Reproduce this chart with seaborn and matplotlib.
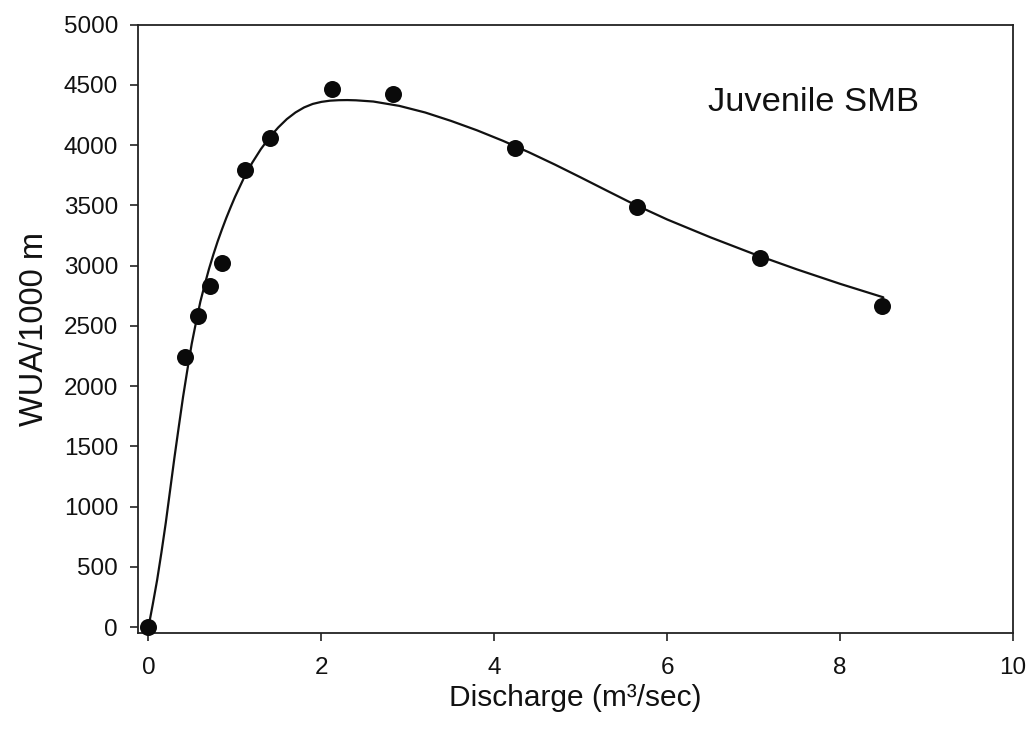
import matplotlib
matplotlib.use("Agg")
import matplotlib.pyplot as plt
import seaborn as sns
import pandas as pd

# Observed points
discharge = [0.0, 0.42, 0.57, 0.71, 0.85, 1.12, 1.41, 2.12, 2.83, 4.24, 5.65, 7.07, 8.49]
wua = [0, 2240, 2580, 2830, 3020, 3790, 4055, 4465, 4425, 3975, 3485, 3065, 2665]

# Fitted curve
curve_x = [0.0, 0.05, 0.1, 0.15, 0.2, 0.25, 0.3, 0.35, 0.4, 0.45, 0.5, 0.55, 0.6, 0.65,
           0.7, 0.75, 0.8, 0.85, 0.9, 0.95, 1.0, 1.1, 1.2, 1.3, 1.4, 1.5, 1.6, 1.7, 1.8,
           1.9, 2.0, 2.1, 2.2, 2.3, 2.4, 2.6, 2.9, 3.2, 3.5, 3.8, 4.1, 4.4, 4.7, 5.0,
           5.3, 5.6, 6.0, 6.5, 7.0, 7.5, 8.0, 8.5]
curve_y = [0, 190, 390, 620, 865, 1135, 1405, 1660, 1910, 2135, 2350, 2530, 2700, 2840,
           2972, 3090, 3200, 3300, 3395, 3483, 3568, 3721, 3853, 3966, 4063, 4145, 4215,
           4270, 4312, 4341, 4358, 4368, 4372, 4373, 4371, 4361, 4325, 4270, 4200, 4122,
           4035, 3940, 3838, 3731, 3622, 3514, 3382, 3234, 3096, 2968, 2848, 2736]

x_ticks = [0, 2, 4, 6, 8, 10]
y_ticks = [0, 500, 1000, 1500, 2000, 2500, 3000, 3500, 4000, 4500, 5000]

sns.set_theme(style="ticks")
plt.rcParams['font.family'] = ['Liberation Sans', 'DejaVu Sans']

fig = plt.figure(figsize=(10.30, 7.43), dpi=100)
ax = fig.add_axes([0.1335, 0.148, 0.850, 0.819])

pts = pd.DataFrame({"Discharge": discharge, "WUA": wua})
crv = pd.DataFrame({"x": curve_x, "y": curve_y})

sns.lineplot(data=crv, x="x", y="y", ax=ax, color="#111111", linewidth=1.6,
             sort=False, estimator=None)
sns.scatterplot(data=pts, x="Discharge", y="WUA", ax=ax, color="#0a0a0a", s=150,
                edgecolor="#0a0a0a", linewidth=0, zorder=5, clip_on=False)

ax.set_xlim(-0.127, 10)
ax.set_ylim(-50, 5000)
ax.set_xticks(x_ticks)
ax.set_yticks(y_ticks)
ax.tick_params(axis="both", direction="out", length=6, width=1.2, colors="#222222",
               labelsize=17.5, labelcolor="#111111")
ax.tick_params(axis="x", pad=11)
ax.tick_params(axis="y", pad=8)
for sp in ax.spines.values():
    sp.set_visible(True)
    sp.set_color("#222222")
    sp.set_linewidth(1.3)

ax.set_xlabel("Discharge (m\u00b3/sec)", fontsize=21.5, color="#111111", labelpad=4)
ax.set_ylabel("WUA/1000 m", fontsize=23.5, color="#111111", labelpad=10)

ax.text(0.652, 0.872, "Juvenile SMB", transform=ax.transAxes, fontsize=24.8,
        color="#111111", ha="left", va="center")

fig.savefig("out.png", dpi=100)
